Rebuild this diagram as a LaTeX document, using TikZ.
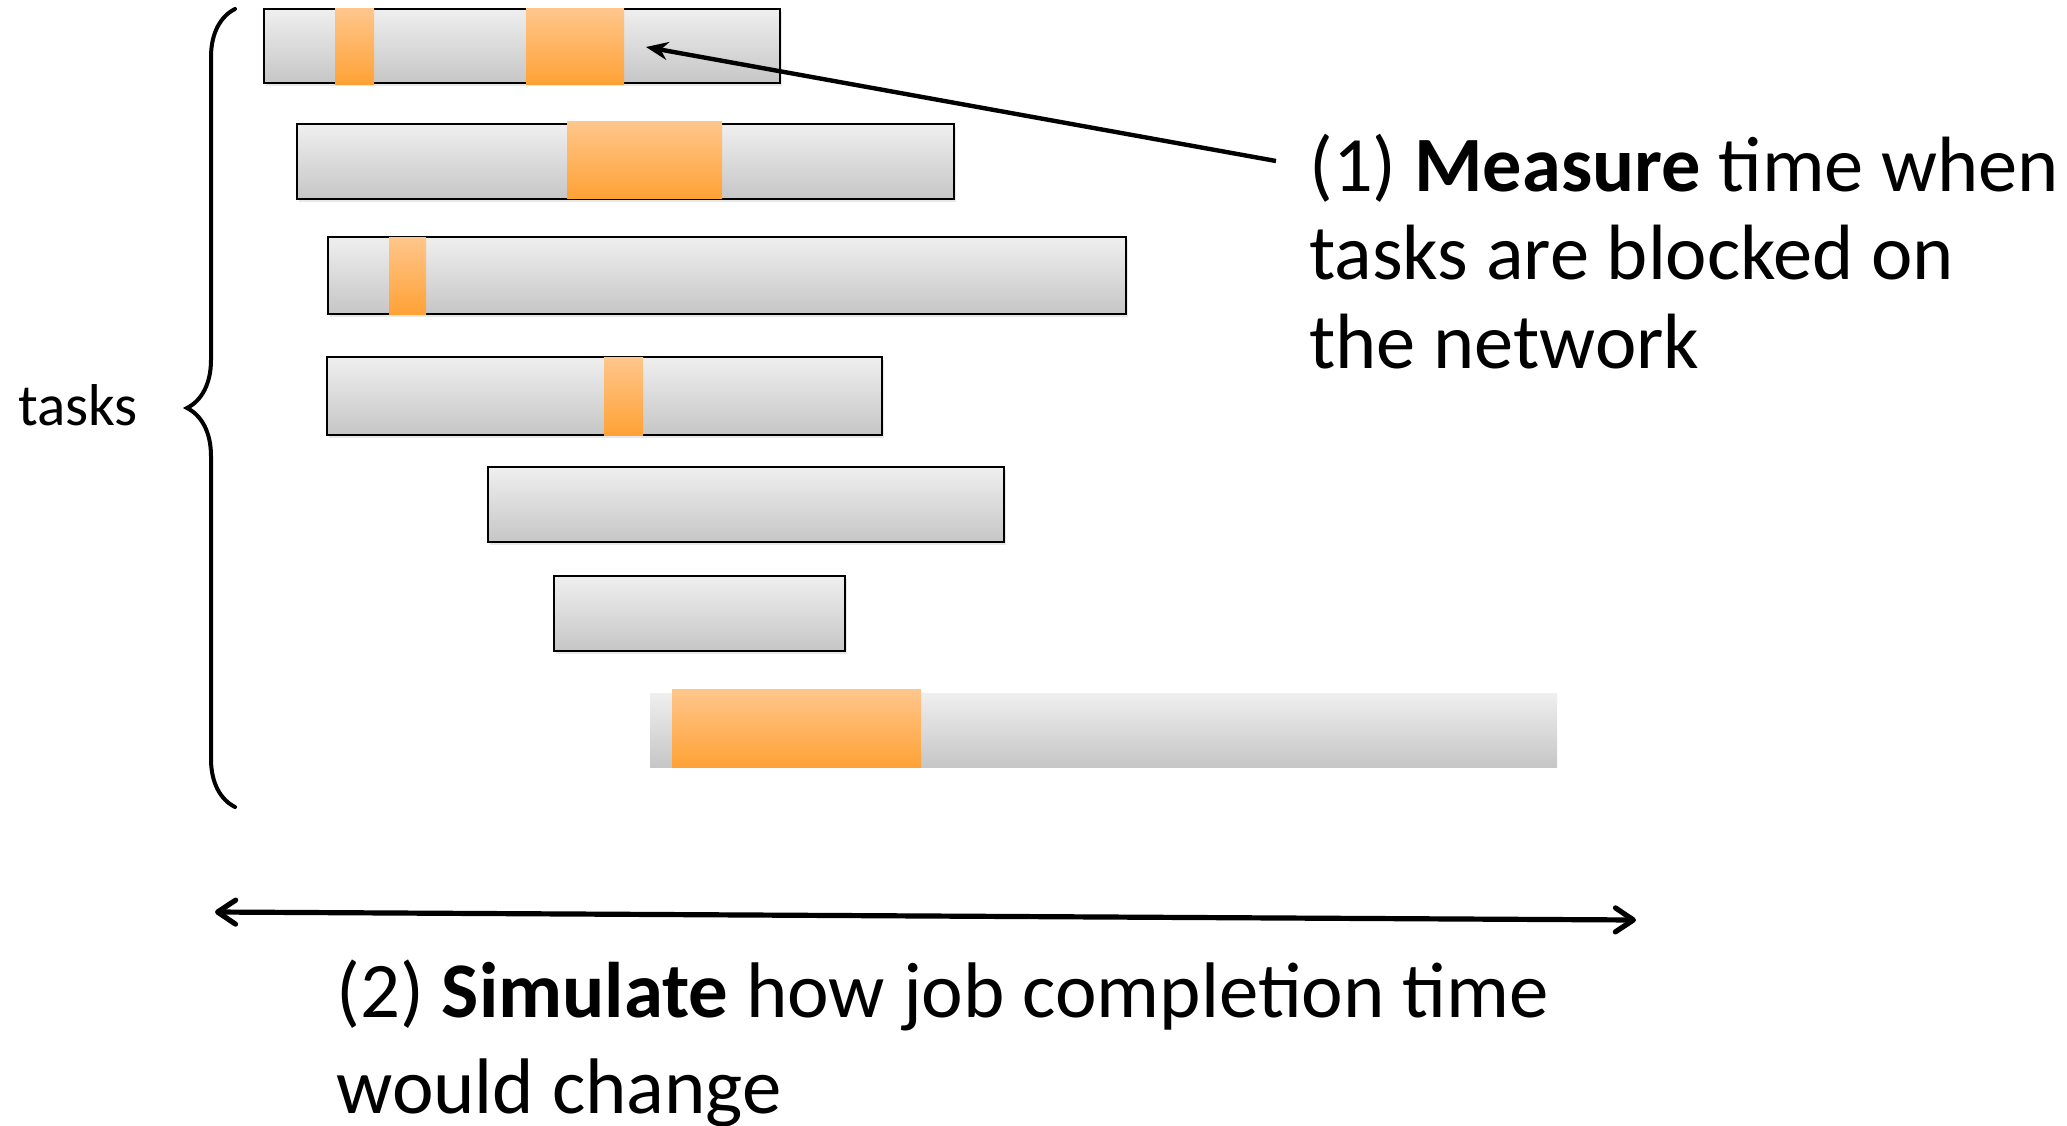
\documentclass[tikz,border=0pt]{standalone}
\usepackage{fontspec}
\setmainfont{Carlito}
\usetikzlibrary{arrows.meta,decorations.pathreplacing,shadows,calc}

\definecolor{barTop}{HTML}{EFEFEF}
\definecolor{barBot}{HTML}{C6C6C6}
\definecolor{blkTop}{HTML}{FFC68C}
\definecolor{blkBot}{HTML}{FFA236}

\tikzset{
  taskbar/.style={top color=barTop, bottom color=barBot, draw=black, line width=1pt,
    drop shadow={shadow xshift=1pt, shadow yshift=-1.5pt, opacity=0.18}},
  lastbar/.style={top color=barTop, bottom color=barBot, draw=none},
  blockbar/.style={top color=blkTop, bottom color=blkBot, draw=none},
  bigtext/.style={align=left, inner sep=0pt},
  pointer/.style={-{Stealth[length=11pt, width=9pt]}, line width=2.2pt},
  span/.style={{Straight Barb[length=9pt, width=12pt, round]}-{Straight Barb[length=9pt, width=12pt, round]}, line width=2.6pt}
}

\begin{document}
\begin{tikzpicture}[x=0.5pt, y=-0.5pt]
  \useasboundingbox (0,0) rectangle (2067,1125);

  % task bars
  \foreach \l/\t/\r/\b in {264/9/780/83, 297/124/954/199, 328/237/1126/314,
                           327/357/882/435, 488/467/1004/542, 554/576/845/651}
    \path[taskbar] (\l,\t) rectangle (\r,\b);
  \path[lastbar] (650,693) rectangle (1557,767);

  % time blocked on the network
  \foreach \l/\t/\r/\b in {335/8/374/84, 526/8/624/84, 567/121/722/198,
                           389/237/426/314, 604/357/643/435, 672/689/921/767}
    \path[blockbar] (\l,\t) rectangle (\r,\b);

  % brace and label
  \draw[decorate, decoration={brace, amplitude=24pt}, line width=2pt, line cap=round]
    (235,807) -- (235,9);
  \node[font=\fontsize{29.5}{34}\selectfont, inner sep=0pt] (tasks) at (78,405) {tasks};

  % texts (base = last line)
  \node[bigtext, font=\fontsize{39.2}{44.25}\selectfont, anchor=base west] (measure) at (1309,368)
    {(1) \textbf{Measure} time when\\tasks are blocked on\\the network};
  \node[bigtext, font=\fontsize{39.4}{48}\selectfont, anchor=base west] (simulate) at (336,1113)
    {(2) \textbf{Simulate} how job completion time\\would change};

  % arrows
  \coordinate (ptail) at (1276,161);
  \coordinate (phead) at (646,47);
  \draw[pointer] (ptail) -- (phead);
  \coordinate (tstart) at (215,912);
  \coordinate (tend) at (1636,920);
  \draw[span] (tstart) -- (tend);
\end{tikzpicture}
\end{document}
